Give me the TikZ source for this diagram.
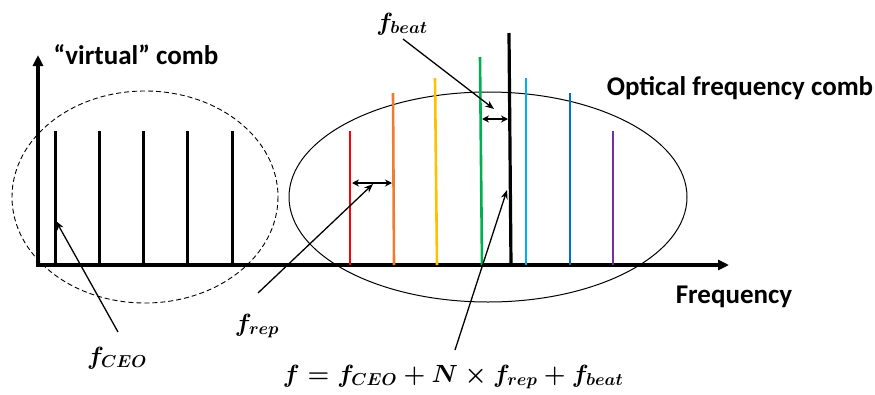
\documentclass[tikz,border=0pt]{standalone}
\usepackage{fontspec}
\setmainfont{Carlito}
\usetikzlibrary{arrows.meta}
\DeclareMathSizes{23}{23}{18.5}{15}
\definecolor{cred}{RGB}{255,0,0}
\definecolor{corange}{RGB}{237,125,49}
\definecolor{cyellow}{RGB}{255,192,0}
\definecolor{cgreen}{RGB}{0,176,80}
\definecolor{ccyan}{RGB}{0,176,240}
\definecolor{cblue}{RGB}{0,112,192}
\definecolor{cpurple}{RGB}{112,48,160}
\tikzset{
  axisline/.style={line width=3.5pt,-{Triangle[length=11pt,width=10pt]}},
  stem/.style={line width=3pt},
  cstem/.style={line width=2.6pt},
  pointer/.style={line width=1.3pt,-{Stealth[length=9pt,width=7pt]}},
  dbl/.style={line width=1.6pt,{Stealth[length=7pt,width=7pt]}-{Stealth[length=7pt,width=7pt]}},
  lbl/.style={inner sep=0pt,font=\fontsize{27}{30}\selectfont\bfseries},
  mlbl/.style={inner sep=0pt,font=\fontsize{23}{28}\selectfont\boldmath},
}
\begin{document}
\begin{tikzpicture}[x=1pt,y=-1pt]
\useasboundingbox (0,0) rectangle (875,394);
% ellipses
\draw[dashed,line width=0.9pt,dash pattern=on 5pt off 3pt] (145,197) ellipse [x radius=133,y radius=106];
\draw[line width=1pt] (488,197) ellipse [x radius=199,y radius=105];
% axes
\coordinate (o) at (38,265);
\coordinate (ytip) at (38,55);
\coordinate (xtip) at (729,265);
\draw[axisline] (o) -- (ytip);
\draw[axisline] (36.25,265) -- (xtip);
% virtual comb
\foreach \x in {55,99,143,187,232}
  \draw[stem] (\x,265) -- (\x,131);
% optical comb
\draw[cstem,cred] (350,265) -- (350,131);
\draw[cstem,corange] (394,265) -- (393,93);
\draw[cstem,cyellow] (437,265) -- (435,78);
\draw[cstem,cgreen] (482,265) -- (480,57);
\draw[line width=3.2pt] (511,265) -- (509,33);
\draw[cstem,ccyan] (526,265) -- (526,78);
\draw[cstem,cblue] (570,265) -- (570,93);
\draw[cstem,cpurple] (613,265) -- (613,131);
% labels
\node[lbl] (virt) at (136,55) {“virtual” comb};
\node[lbl] (ofc) at (740,88) {Optical frequency comb};
\node[lbl] (freq) at (734,297) {Frequency};
\node[mlbl] (fbeat) at (402,24) {$f_{beat}$};
\node[mlbl] (frep) at (257,326) {$f_{rep}$};
\node[mlbl] (fceo) at (117,358) {$f_{CEO}$};
\node[mlbl] (formula) at (453,377) {$f=f_{CEO}+N\times f_{rep}+f_{beat}$};
% double arrows
\coordinate (r1) at (352,183);
\coordinate (r2) at (392,183);
\draw[dbl] (r1) -- (r2);
\coordinate (b1) at (482,119);
\coordinate (b2) at (508,119);
\draw[dbl] (b1) -- (b2);
% pointers
\coordinate (pceo) at (56,221);
\coordinate (prep) at (373,184);
\coordinate (pbeat) at (494,109);
\coordinate (pf) at (507,190);
\coordinate (sceo) at (118,332);
\coordinate (srep) at (258,293);
\coordinate (sbeat) at (403,39);
\coordinate (sf) at (455,350);
\draw[pointer] (sceo) -- (pceo);
\draw[pointer] (srep) -- (prep);
\draw[pointer] (sbeat) -- (pbeat);
\draw[pointer] (sf) -- (pf);
\end{tikzpicture}
\end{document}
